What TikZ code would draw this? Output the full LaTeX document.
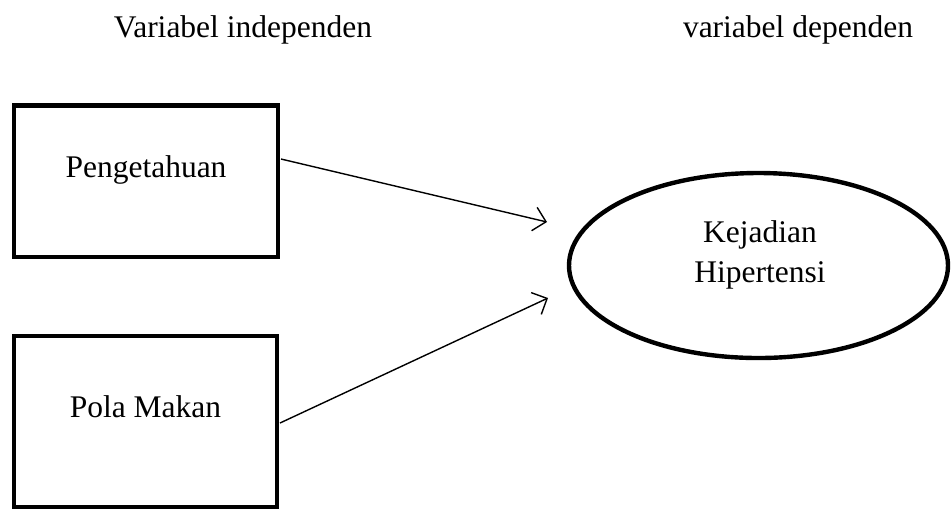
\documentclass[tikz,border=0pt]{standalone}
\usepackage{fontspec}
\setmainfont{Liberation Serif}
\usetikzlibrary{shapes.geometric,arrows.meta}
\begin{document}
\begin{tikzpicture}[x=0.5pt,y=-0.5pt,
  every node/.style={font=\fontsize{15.75pt}{20pt}\selectfont},
  varbox/.style={draw,line width=2.4pt,rectangle,inner sep=0pt},
  outcome/.style={draw,line width=2.2pt,ellipse,inner sep=0pt,minimum width=189.5pt,minimum height=92.5pt},
  lbl/.style={inner sep=0pt,anchor=base},
  arr/.style={line width=0.7pt,-{Straight Barb[length=6pt,width=12pt,line width=0.7pt]}}]
\useasboundingbox (0,0) rectangle (952,511);
\node[lbl] (ti) at (243,37) {Variabel independen};
\node[lbl] (td) at (798,37) {variabel dependen};
\node[varbox,minimum width=132pt,minimum height=75.75pt] (b1) at (146,181.25) {};
\node[lbl] (b1t) at (146,177) {Pengetahuan};
\node[varbox,minimum width=131.5pt,minimum height=85.5pt] (b2) at (145.5,421.5) {};
\node[lbl] (b2t) at (145.5,417) {Pola Makan};
\node[outcome] (kh) at (758.5,265.5) {};
\node[lbl,align=center,anchor=north] (kht) at (760,220) {Kejadian\\Hipertensi};
\coordinate (s1) at (281,159);
\coordinate (t1) at (547,222);
\coordinate (s2) at (280,423);
\coordinate (t2) at (548,298);
\draw[arr] (s1) -- (t1);
\draw[arr] (s2) -- (t2);
\end{tikzpicture}
\end{document}
